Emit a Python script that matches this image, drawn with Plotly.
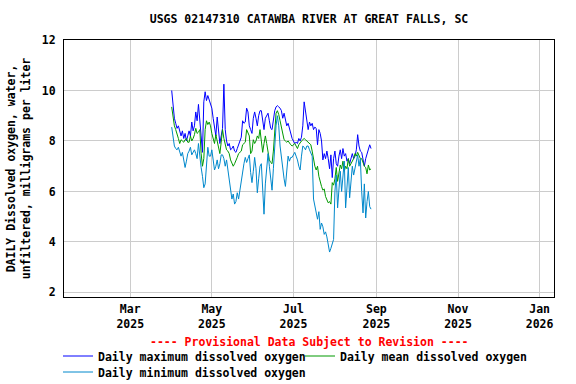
import pandas as pd
import plotly.graph_objects as go

title_text = "USGS 02147310 CATAWBA RIVER AT GREAT FALLS, SC"
y_title = "DAILY Dissolved oxygen, water,<br>unfiltered, milligrams per liter"
provisional = "---- Provisional Data Subject to Revision ----"

start_date = "2025-04-01"

daily_max = [
    10.0, 9.3, 8.9, 8.7, 8.5, 8.6, 8.4, 8.2, 8.4, 8.1,
    8.3, 8.0, 8.2, 8.4, 8.2, 8.75, 8.4, 8.6, 9.15, 8.8,
    9.45, 8.6, 8.2, 7.55, 9.55, 9.95, 9.6, 9.8, 9.6, 9.4,
    9.3, 8.9, 8.5, 8.2, 8.95, 8.4, 7.9, 8.2, 8.5, 10.25,
    8.45, 8.0, 7.8, 7.9, 7.65, 7.7, 7.8, 7.6, 7.55, 7.7,
    7.85, 8.0, 8.15, 8.8, 8.7, 8.75, 9.3, 9.15, 8.6, 8.45,
    8.3, 8.9, 9.15, 8.9, 8.6, 9.0, 9.2, 9.2, 8.9, 8.45,
    8.9, 9.0, 9.1, 8.8, 8.5, 8.45, 8.9, 9.2, 9.35, 9.4,
    9.35, 9.3, 9.2, 8.9, 9.1, 8.8, 8.6, 8.7, 8.5, 8.2,
    8.1, 8.0, 7.9, 7.95, 7.9, 8.1, 8.0, 8.15, 8.6, 9.55,
    9.2, 8.8, 8.45, 8.75, 8.6, 8.7, 8.45, 8.55, 8.5, 7.85,
    8.45, 8.3, 8.0, 7.25, 7.5, 7.3, 7.6, 7.3, 6.9, 7.45,
    6.55, 7.3, 7.6, 7.1, 7.0, 7.4, 7.65, 7.3, 7.7, 7.4,
    7.5, 7.2, 7.3, 7.1, 7.3, 7.5, 7.3, 7.4, 7.65, 8.25,
    7.8, 7.6, 7.55, 7.2, 7.0, 7.3, 7.5, 7.75, 7.85, 7.7,
]

daily_mean = [
    9.35, 8.9, 8.6, 8.45, 8.3, 8.1, 7.9, 8.05, 8.0, 7.95,
    8.05, 8.1, 7.95, 7.95, 8.2, 8.0, 8.1, 8.25, 8.5, 8.3,
    8.35, 8.45, 7.5, 7.0, 7.3, 8.45, 8.8, 8.65, 8.75, 8.6,
    8.3, 8.1, 7.9, 8.25, 8.0, 7.8, 7.5, 7.95, 8.45, 8.1,
    7.8, 7.65, 7.6, 7.5, 7.25, 7.15, 7.0, 7.1, 7.2, 7.35,
    7.5, 7.55, 7.6, 7.85, 7.9, 7.95, 8.45, 8.3, 8.2, 7.5,
    7.6, 8.05, 7.9, 8.0, 8.2, 8.1, 8.45, 8.0, 7.55, 7.9,
    8.2, 7.9, 7.6, 7.25, 7.15, 7.1, 7.6, 8.3, 9.1, 9.2,
    9.05, 8.8, 8.5, 8.3, 8.05, 8.0, 7.95, 8.0, 7.9, 7.85,
    7.8, 7.85, 7.9, 7.8, 7.7, 7.85, 7.95, 8.0, 8.05, 8.1,
    8.05, 8.0, 7.95, 7.9, 7.85, 7.6, 7.25, 7.0, 6.85, 7.0,
    6.6, 6.35, 6.2, 6.05, 6.1, 5.8, 5.7, 5.55, 5.6, 5.5,
    6.35, 6.25, 6.5, 6.95, 6.4, 6.8, 7.05, 6.9, 7.2, 6.8,
    7.0, 6.9, 7.3, 7.0, 7.1, 7.2, 7.3, 7.5, 7.4, 7.55,
    7.45, 7.3, 7.3, 7.1, 7.0, 6.95, 6.7, 7.05, 6.85, 6.9,
]

daily_min = [
    8.55, 8.1, 7.8, 7.7, 7.65, 7.75, 7.6, 7.4, 7.55, 7.15,
    6.95, 7.2, 7.5, 7.6, 7.75, 7.45, 7.55, 7.65, 7.5, 7.3,
    7.9, 7.3, 6.95, 6.6, 6.15, 6.3, 7.3, 7.75, 7.4, 7.4,
    7.65, 7.2, 6.85, 7.0, 7.25, 6.9, 7.1, 7.45, 7.45, 7.3,
    7.0, 7.25, 6.8, 6.45, 6.05, 5.7, 5.9, 5.5, 5.6, 5.95,
    5.7, 6.1, 6.4, 6.85, 7.1, 7.35, 7.15, 7.3, 7.45, 6.75,
    6.35, 6.8, 7.35, 6.9, 5.95, 6.5, 7.0, 7.1, 6.2, 5.1,
    6.3, 7.1, 7.5, 7.0, 6.5, 6.05, 6.9, 7.8, 8.6, 9.0,
    8.6, 7.8, 7.3, 6.75, 6.5, 6.2, 7.0, 7.4, 7.2, 7.35,
    7.35, 7.45, 7.55, 7.4, 7.25, 7.0, 6.85, 7.4, 7.8, 7.75,
    7.65, 7.8, 7.8, 7.65, 7.55, 7.4, 5.7, 5.4, 5.15, 4.9,
    5.2, 4.5, 4.75, 4.6, 4.3, 4.4, 4.2, 3.8, 3.6, 3.75,
    3.9, 4.1, 6.0, 6.65, 5.35, 6.2, 6.8, 6.0, 6.7, 7.2,
    5.35, 6.3, 6.95, 5.75, 6.5, 7.0, 6.65, 6.9, 7.1, 7.45,
    7.0, 7.3, 6.0, 5.15, 6.3, 4.95, 5.6, 6.0, 5.4, 5.3,
]

dates = pd.date_range(start_date, periods=len(daily_max), freq="D")

x_tick_vals = ["2025-03-01", "2025-05-01", "2025-07-01", "2025-09-01", "2025-11-01", "2026-01-01"]
x_tick_text = ["Mar<br>2025", "May<br>2025", "Jul<br>2025", "Sep<br>2025", "Nov<br>2025", "Jan<br>2026"]
y_tick_vals = [2, 4, 6, 8, 10, 12]

FONT = "DejaVu Sans Mono"
FS = 11.5

fig = go.Figure()
fig.add_trace(go.Scatter(x=dates, y=daily_max, mode="lines", name="Daily maximum dissolved oxygen",
                         line=dict(color="#0000ff", width=1), legend="legend"))
fig.add_trace(go.Scatter(x=dates, y=daily_mean, mode="lines", name="Daily mean dissolved oxygen",
                         line=dict(color="#009900", width=1), legend="legend2"))
fig.add_trace(go.Scatter(x=dates, y=daily_min, mode="lines", name="Daily minimum dissolved oxygen",
                         line=dict(color="#0088cc", width=1), legend="legend3"))

legend_common = dict(orientation="h", xref="container", xanchor="left",
                     yref="container", yanchor="middle",
                     font=dict(family=FONT, size=FS, color="black", weight="bold"),
                     bgcolor="rgba(0,0,0,0)")

fig.update_layout(
    width=576, height=384,
    margin=dict(l=64, r=22, t=40, b=87, autoexpand=False),
    paper_bgcolor="white", plot_bgcolor="white",
    font=dict(family=FONT, size=FS, color="black", weight="bold"),
    title=dict(text=title_text, x=0.5, xref="paper", xanchor="center",
               y=1 - 19 / 384, yref="container", yanchor="middle",
               font=dict(family=FONT, size=FS, color="black", weight="bold")),
    showlegend=True,
    legend=dict(x=58 / 576, y=1 - 356 / 384, **legend_common),
    legend2=dict(x=300 / 576, y=1 - 356 / 384, **legend_common),
    legend3=dict(x=58 / 576, y=1 - 372 / 384, **legend_common),
    annotations=[dict(text=provisional, x=0.5, xref="paper", xanchor="center",
                      y=(297 - 342) / 257, yref="paper", yanchor="middle", showarrow=False,
                      font=dict(family=FONT, size=FS, color="#ff0000", weight="bold"))],
)

fig.update_xaxes(
    type="date", range=["2025-01-10 12:00", "2026-01-11 18:00"], automargin=False,
    tickvals=x_tick_vals, ticktext=x_tick_text, ticks="", ticklabelstandoff=1,
    showgrid=True, gridcolor="#cccccc", gridwidth=1,
    showline=True, linecolor="black", linewidth=1, mirror=True, zeroline=False,
)
fig.update_yaxes(
    range=[1.82, 12], tickvals=y_tick_vals, ticks="", ticklabelstandoff=5, automargin=False,
    showgrid=True, gridcolor="#cccccc", gridwidth=1,
    showline=True, linecolor="black", linewidth=1, mirror=True, zeroline=False,
    title=dict(text=y_title, standoff=8, font=dict(family=FONT, size=FS, weight="bold")),
)

fig.write_html(
    "out.html",
    config={"displayModeBar": False},
    post_script="document.body.style.margin='0';document.body.style.overflow='hidden';",
)
